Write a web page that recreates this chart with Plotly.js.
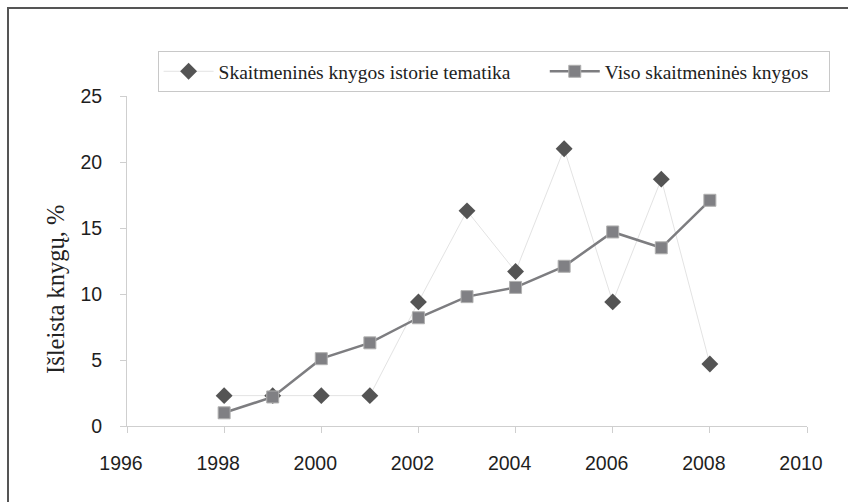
<!DOCTYPE html>
<html>
<head>
<meta charset="utf-8">
<script src="https://cdn.plot.ly/plotly-3.0.1.min.js"></script>
<style>
html,body{margin:0;padding:0;background:#fff;}
#chart{width:848px;height:502px;}
</style>
</head>
<body>
<div id="chart"></div>
<script>
const years = [1998, 1999, 2000, 2001, 2002, 2003, 2004, 2005, 2006, 2007, 2008];
const historyTheme = [2.3, 2.3, 2.3, 2.3, 9.4, 16.3, 11.7, 21.0, 9.4, 18.7, 4.7];
const allDigital = [1.0, 2.2, 5.1, 6.3, 8.2, 9.8, 10.5, 12.1, 14.7, 13.5, 17.1];
const seriesNames = ["Skaitmeninės knygos istorie tematika", "Viso skaitmeninės knygos"];
const yTitle = "Išleista knygų, %";

const pad = n => "\u00a0".repeat(n);

const traces = [
  {
    x: years, y: historyTheme, name: seriesNames[0] + pad(6), type: "scatter", mode: "lines+markers",
    line: {color: "#e3e3e3", width: 1},
    marker: {symbol: "diamond", size: 13, color: "#545454"}
  },
  {
    x: years, y: allDigital, name: seriesNames[1] + pad(3), type: "scatter", mode: "lines+markers",
    line: {color: "#7d7d80", width: 2.5},
    marker: {symbol: "square", size: 12, color: "#808084", line: {color: "#b0b0b0", width: 1}}
  }
];

const layout = {
  width: 848, height: 502,
  margin: {l: 127, r: 41, t: 96, b: 76},
  paper_bgcolor: "#fff", plot_bgcolor: "#fff",
  showlegend: true,
  legend: {
    orientation: "h", x: 0.045, y: 1.136, xanchor: "left", yanchor: "top",
    bordercolor: "#c8c8c8", borderwidth: 1, bgcolor: "#fff",
    font: {family: "Liberation Serif, Times New Roman, serif", size: 19.5, color: "#222"},
    itemwidth: 50, tracegroupgap: 0
  },
  xaxis: {
    range: [1996, 2010], tick0: 1996, dtick: 2, showgrid: false, zeroline: false,
    showline: true, linecolor: "#cfcfcf", linewidth: 1,
    ticks: "outside", ticklen: 6, tickcolor: "#cfcfcf",
    ticklabelstandoff: 14, ticklabelshift: -6,
    tickfont: {family: "Liberation Sans, Arial, sans-serif", size: 19.5, color: "#1e1e1e"}
  },
  yaxis: {
    range: [0, 25], dtick: 5, showgrid: false, zeroline: false,
    showline: true, linecolor: "#cfcfcf", linewidth: 1,
    ticks: "outside", ticklen: 6, tickcolor: "#cfcfcf",
    ticklabelstandoff: 14,
    tickfont: {family: "Liberation Sans, Arial, sans-serif", size: 19.5, color: "#1e1e1e"}
  },
  annotations: [
    {text: yTitle, xref: "paper", yref: "paper", x: -0.106, y: 0.415, xanchor: "center", yanchor: "middle",
     textangle: -90, showarrow: false,
     font: {family: "Liberation Serif, Times New Roman, serif", size: 24.5, color: "#222"}}
  ],
  shapes: [
    {type: "line", xref: "paper", yref: "paper", x0: -0.175, x1: -0.175, y0: 1.27, y1: -0.3, line: {color: "#555", width: 2}},
    {type: "line", xref: "paper", yref: "paper", x0: -0.175, x1: 1.1, y0: 1.267, y1: 1.267, line: {color: "#555", width: 2}}
  ]
};

Plotly.newPlot("chart", traces, layout, {displayModeBar: false, staticPlot: true});
</script>
</body>
</html>
